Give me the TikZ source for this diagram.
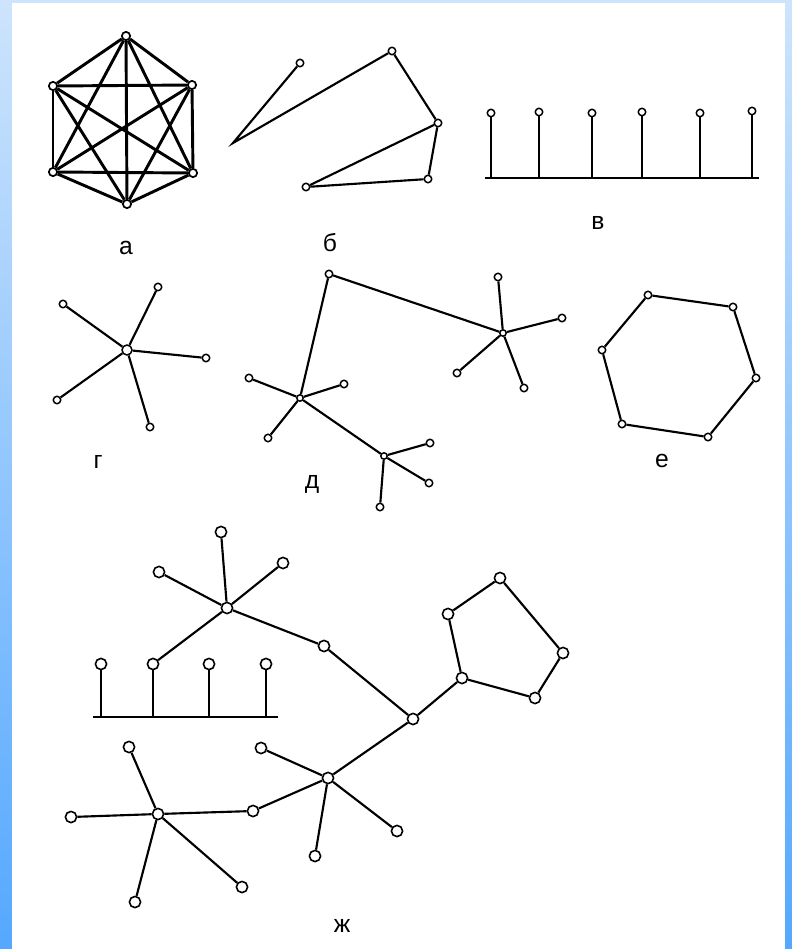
\documentclass[tikz,border=0pt]{standalone}
\usepackage{fontspec}
\setmainfont{Liberation Sans}
\definecolor{stripA}{RGB}{205,228,252}
\definecolor{stripB}{RGB}{85,168,255}
\tikzset{
  v/.style={circle, draw, fill=white, line width=1.1pt, inner sep=0pt, minimum size=5.6pt},
  vb/.style={circle, draw, fill=white, line width=1.2pt, inner sep=0pt, minimum size=8.4pt},
  vk/.style={circle, draw, fill=white, line width=1.3pt, inner sep=0pt, minimum size=6.2pt},
  e/.style={line width=1.6pt},
  ek/.style={line width=2.2pt},
  lab/.style={font=\fontsize{18.5}{20}\selectfont, inner sep=0pt}
}
\begin{document}
\begin{tikzpicture}[x=0.75pt, y=-0.75pt]
\useasboundingbox (0,0) rectangle (792,949);
% background
\shade[top color=stripA, bottom color=stripB] (0,0) rectangle (792,949);
\fill[white] (12,3) rectangle (785,949);

% ---------- а : K6 ----------
\node[vk] (a1) at (126,36) {};
\node[vk] (a2) at (192,85) {};
\node[vk] (a3) at (193,173) {};
\node[vk] (a4) at (127,204) {};
\node[vk] (a5) at (53,172) {};
\node[vk] (a6) at (53,86) {};
\foreach \i/\j in {a1/a2,a1/a3,a1/a4,a1/a5,a1/a6,a2/a3,a2/a4,a2/a5,a2/a6,a3/a4,a3/a5,a3/a6,a4/a5,a4/a6,a5/a6}
  \draw[ek] (\i) -- (\j);
\node[lab] (la) at (126,248) {а};

% ---------- б ----------
\node[v] (b1) at (300,63) {};
\coordinate (b2) at (233,143);
\node[v] (b3) at (392,51) {};
\node[v] (b4) at (438,123) {};
\node[v] (b5) at (428,179) {};
\node[v] (b6) at (306,187) {};
\draw[e] (b1) -- (b2) -- (b3);
\draw[e] (b3) -- (b4);
\draw[e] (b4) -- (b6);
\draw[e] (b4) -- (b5);
\draw[e] (b5) -- (b6);
\node[lab] (lb) at (330,243) {б};

% ---------- в ----------
\coordinate (cL) at (485,178);
\coordinate (cR) at (759,178);
\draw[e] (cL) -- (cR);
\foreach \n/\x/\y in {c1/491/113,c2/539/112,c3/592/113,c4/642/112,c5/700/113,c6/752/111}{
  \node[v] (\n) at (\x,\y) {};
  \coordinate (\n b) at (\x,178);
  \draw[e] (\n) -- (\n b);
}
\node[lab] (lc) at (598,223) {в};

% ---------- г ----------
\node[v, minimum size=7.5pt] (g0) at (127,350) {};
\node[v] (g1) at (63,304) {};
\node[v] (g2) at (158,287) {};
\node[v] (g3) at (206,358) {};
\node[v] (g4) at (57,400) {};
\node[v] (g5) at (150,427) {};
\foreach \n in {g1,g2,g3,g4,g5} \draw[e] (g0) -- (\n);
\node[lab] (lg) at (98,462) {г};

% ---------- д ----------
\node[v] (d0) at (329,274) {};
\node[v, minimum size=4.8pt] (d1) at (300,398) {};
\node[v, minimum size=4.8pt] (d2) at (503,333) {};
\node[v, minimum size=4.8pt] (d3) at (384,456) {};
\node[v] (d21) at (498,277) {};
\node[v] (d22) at (562,318) {};
\node[v] (d23) at (457,373) {};
\node[v] (d24) at (524,388) {};
\node[v] (d11) at (249,378) {};
\node[v] (d12) at (344,384) {};
\node[v] (d13) at (268,438) {};
\node[v] (d31) at (430,443) {};
\node[v] (d32) at (429,483) {};
\node[v] (d33) at (380,507) {};
\draw[e] (d1) -- (d0) -- (d2);
\draw[e] (d1) -- (d3);
\foreach \n in {d21,d22,d23,d24} \draw[e] (d2) -- (\n);
\foreach \n in {d11,d12,d13} \draw[e] (d1) -- (\n);
\foreach \n in {d31,d32,d33} \draw[e] (d3) -- (\n);
\node[lab] (ld) at (312,484) {д};

% ---------- е ----------
\node[v] (f1) at (648,295) {};
\node[v] (f2) at (733,307) {};
\node[v] (f3) at (756,378) {};
\node[v] (f4) at (708,437) {};
\node[v] (f5) at (622,424) {};
\node[v] (f6) at (602,350) {};
\draw[e] (f1) -- (f2) -- (f3) -- (f4) -- (f5) -- (f6) -- (f1);
\node[lab] (lf) at (662,461) {е};

% ---------- ж ----------
% upper star
\node[vb] (h0) at (227,608) {};
\node[vb] (h1) at (221,532) {};
\node[vb] (h2) at (159,572) {};
\node[vb] (h3) at (283,563) {};
\node[vb] (h4) at (324,646) {};
\foreach \n in {h1,h2,h3,h4} \draw[e] (h0) -- (\n);
% comb
\coordinate (kL) at (93,717);
\coordinate (kR) at (278,717);
\draw[e] (kL) -- (kR);
\foreach \n/\x in {k1/101,k2/153,k3/209,k4/266}{
  \node[vb] (\n) at (\x,664) {};
  \coordinate (\n b) at (\x,717);
  \draw[e] (\n) -- (\n b);
}
\draw[e] (h0) -- (k2);
% junction and pentagon
\node[vb] (j0) at (413,719) {};
\node[vb] (p1) at (462,678) {};
\node[vb] (p2) at (448,614) {};
\node[vb] (p3) at (500,578) {};
\node[vb] (p4) at (563,653) {};
\node[vb] (p5) at (535,698) {};
\draw[e] (h4) -- (j0);
\draw[e] (j0) -- (p1);
\draw[e] (p1) -- (p2) -- (p3) -- (p4) -- (p5) -- (p1);
% lower right star
\node[vb] (r0) at (328,778) {};
\node[vb] (r1) at (261,748) {};
\node[vb] (r2) at (397,831) {};
\node[vb] (r3) at (315,856) {};
\node[vb] (r4) at (253,811) {};
\draw[e] (j0) -- (r0);
\foreach \n in {r1,r2,r3,r4} \draw[e] (r0) -- (\n);
% lower left star
\node[vb] (s0) at (158,814) {};
\node[vb] (s1) at (129,747) {};
\node[vb] (s2) at (71,817) {};
\node[vb] (s3) at (135,902) {};
\node[vb] (s4) at (242,887) {};
\draw[e] (s0) -- (r4);
\foreach \n in {s1,s2,s3,s4} \draw[e] (s0) -- (\n);
\node[lab] (lh) at (342,926) {ж};
\end{tikzpicture}
\end{document}
